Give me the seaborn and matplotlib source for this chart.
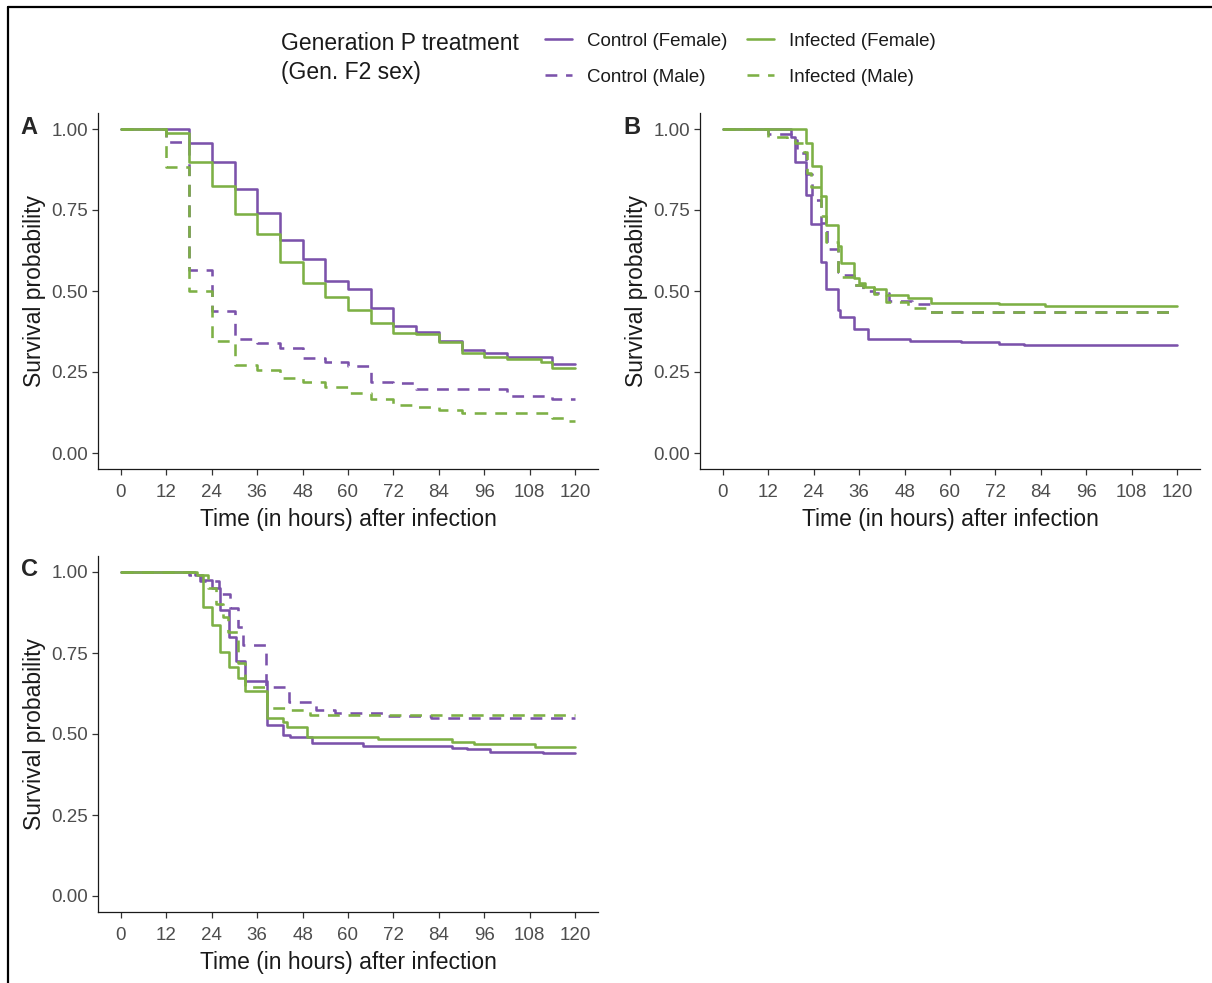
import numpy as np
import pandas as pd
import matplotlib
matplotlib.use("Agg")
import matplotlib.pyplot as plt
from matplotlib.lines import Line2D
import seaborn as sns

# ---------------- data (Kaplan-Meier step curves) ----------------
# Panel A
A_ctrl_f_t = [0, 18, 24, 30, 36, 42, 48, 54, 60, 66, 72, 78, 84, 90, 96, 102, 114, 120]
A_ctrl_f_s = [1.0, 0.956, 0.899, 0.815, 0.74, 0.657, 0.599, 0.532, 0.505, 0.447, 0.392, 0.374, 0.347, 0.318, 0.31, 0.295, 0.274, 0.274]
A_inf_f_t = [0, 12, 18, 24, 30, 36, 42, 48, 54, 60, 66, 72, 78, 84, 90, 96, 102, 111, 114, 120]
A_inf_f_s = [1.0, 0.987, 0.899, 0.824, 0.738, 0.676, 0.589, 0.524, 0.482, 0.441, 0.402, 0.371, 0.367, 0.344, 0.31, 0.295, 0.29, 0.282, 0.263, 0.263]
A_ctrl_m_t = [0, 12, 18, 24, 30, 36, 42, 48, 54, 60, 66, 72, 78, 102, 114, 120]
A_ctrl_m_s = [1.0, 0.961, 0.565, 0.438, 0.351, 0.34, 0.323, 0.292, 0.282, 0.27, 0.22, 0.215, 0.198, 0.176, 0.166, 0.166]
A_inf_m_t = [0, 12, 18, 24, 30, 36, 42, 48, 54, 60, 66, 72, 78, 84, 90, 114, 118, 120]
A_inf_m_s = [1.0, 0.884, 0.5, 0.346, 0.272, 0.256, 0.232, 0.218, 0.205, 0.184, 0.166, 0.148, 0.141, 0.133, 0.125, 0.107, 0.099, 0.099]

# Panel B
B_ctrl_f_t = [0, 18, 19, 22, 23.3, 25.8, 27.2, 30.3, 31, 34.5, 38.4, 49.3, 63, 73, 79.5, 120]
B_ctrl_f_s = [1.0, 0.976, 0.899, 0.796, 0.707, 0.59, 0.506, 0.441, 0.419, 0.382, 0.351, 0.347, 0.342, 0.336, 0.332, 0.332]
B_inf_f_t = [0, 22, 23.5, 26, 27.2, 30.5, 31.2, 34.5, 36, 37.5, 40, 43, 49, 55, 73, 85, 120]
B_inf_f_s = [1.0, 0.956, 0.886, 0.793, 0.704, 0.639, 0.587, 0.539, 0.525, 0.513, 0.505, 0.488, 0.477, 0.464, 0.459, 0.455, 0.455]
B_ctrl_m_t = [0, 12, 18, 19.5, 22, 23.5, 26, 27.5, 30.5, 31.5, 34.5, 37, 40, 44, 50, 54.8, 120]
B_ctrl_m_s = [1.0, 0.986, 0.965, 0.925, 0.86, 0.78, 0.71, 0.63, 0.56, 0.549, 0.52, 0.50, 0.493, 0.47, 0.459, 0.436, 0.436]
B_inf_m_t = [0, 12, 17, 19, 21.5, 22.3, 23.2, 26, 27.2, 30.5, 34.5, 37, 40, 43, 49, 54.8, 120]
B_inf_m_s = [1.0, 0.976, 0.966, 0.956, 0.93, 0.863, 0.82, 0.73, 0.652, 0.544, 0.52, 0.513, 0.49, 0.467, 0.447, 0.436, 0.436]

# Panel C
C_ctrl_f_t = [0, 19.6, 21.5, 24, 26.2, 28.6, 30.5, 32.8, 38.5, 42.9, 44.6, 50.4, 64, 87.5, 91.5, 97.5, 111.6, 120]
C_ctrl_f_s = [1.0, 0.99, 0.976, 0.95, 0.883, 0.8, 0.725, 0.664, 0.528, 0.497, 0.49, 0.473, 0.464, 0.458, 0.453, 0.445, 0.44, 0.44]
C_inf_f_t = [0, 20, 21.8, 24, 26.2, 28.6, 30.8, 32.8, 38.5, 42.9, 44, 49.1, 55, 68, 87.5, 93.4, 109.3, 120]
C_inf_f_s = [1.0, 0.99, 0.893, 0.836, 0.752, 0.708, 0.674, 0.633, 0.548, 0.536, 0.523, 0.492, 0.49, 0.484, 0.476, 0.469, 0.459, 0.459]
C_ctrl_m_t = [0, 18, 21, 26, 28.7, 30.8, 32.3, 38.2, 44.3, 51.5, 56.5, 70, 82, 120]
C_ctrl_m_s = [1.0, 0.99, 0.972, 0.931, 0.888, 0.83, 0.775, 0.646, 0.6, 0.574, 0.564, 0.557, 0.55, 0.55]
C_inf_m_t = [0, 21, 23, 25, 27, 28.4, 30.8, 32.8, 38.5, 44, 50, 120]
C_inf_m_s = [1.0, 0.99, 0.95, 0.9, 0.86, 0.815, 0.72, 0.646, 0.581, 0.574, 0.559, 0.559]

treatments = ["Control", "Infected"]
sexes = ["Female", "Male"]
legend_labels = ["Control (Female)", "Control (Male)", "Infected (Female)", "Infected (Male)"]
x_ticks = [0, 12, 24, 36, 48, 60, 72, 84, 96, 108, 120]
y_ticks = [0.0, 0.25, 0.50, 0.75, 1.00]
y_tick_labels = ["0.00", "0.25", "0.50", "0.75", "1.00"]

curves = {
    "A": {("Control", "Female"): (A_ctrl_f_t, A_ctrl_f_s), ("Infected", "Female"): (A_inf_f_t, A_inf_f_s),
          ("Control", "Male"): (A_ctrl_m_t, A_ctrl_m_s), ("Infected", "Male"): (A_inf_m_t, A_inf_m_s)},
    "B": {("Control", "Female"): (B_ctrl_f_t, B_ctrl_f_s), ("Infected", "Female"): (B_inf_f_t, B_inf_f_s),
          ("Control", "Male"): (B_ctrl_m_t, B_ctrl_m_s), ("Infected", "Male"): (B_inf_m_t, B_inf_m_s)},
    "C": {("Control", "Female"): (C_ctrl_f_t, C_ctrl_f_s), ("Infected", "Female"): (C_inf_f_t, C_inf_f_s),
          ("Control", "Male"): (C_ctrl_m_t, C_ctrl_m_s), ("Infected", "Male"): (C_inf_m_t, C_inf_m_s)},
}

rows = []
for panel, d in curves.items():
    for (trt, sex), (ts, ss) in d.items():
        for t, s in zip(ts, ss):
            rows.append({"panel": panel, "treatment": trt, "sex": sex, "time": t, "surv": s})
df = pd.DataFrame(rows)

# ---------------- style ----------------
sns.set_style("white")
plt.rcParams["font.family"] = ["Liberation Sans", "DejaVu Sans"]

PURPLE = "#7B52AB"
GREEN = "#7DB045"
palette = {"Control": PURPLE, "Infected": GREEN}
dashes = {"Female": "", "Male": (4.6, 3.4)}
LW = 1.85
TICK_FS = 13.5
TITLE_FS = 16.5

W, H = 1212, 983
fig = plt.figure(figsize=(W / 100, H / 100), dpi=100)
fig.patch.set_facecolor("white")

def px_axes(x0, x1, y0, y1):
    return fig.add_axes([x0 / W, 1 - y1 / H, (x1 - x0) / W, (y1 - y0) / H])

axes = {
    "A": px_axes(98.3, 597.7, 112.8, 469.2),
    "B": px_axes(700.3, 1199.7, 112.8, 469.2),
    "C": px_axes(98.3, 597.7, 555.8, 912.2),
}

for panel, ax in axes.items():
    sub = df[df["panel"] == panel]
    sns.lineplot(data=sub, x="time", y="surv", hue="treatment", style="sex",
                 hue_order=treatments, style_order=sexes, palette=palette,
                 dashes=dashes, drawstyle="steps-post", estimator=None,
                 linewidth=LW, legend=False, ax=ax)
    ax.set_xlim(-6, 126)
    ax.set_ylim(-0.05, 1.05)
    ax.set_xticks(x_ticks)
    ax.set_yticks(y_ticks)
    ax.set_yticklabels(y_tick_labels)
    for side in ["top", "right"]:
        ax.spines[side].set_visible(False)
    for side in ["left", "bottom"]:
        ax.spines[side].set_color("#1a1a1a")
        ax.spines[side].set_linewidth(0.9)
    ax.tick_params(axis="both", which="major", direction="out", length=4.5, width=0.9,
                   color="#333333", labelcolor="#4D4D4D", labelsize=TICK_FS,
                   bottom=True, left=True)
    ax.tick_params(axis="x", pad=6)
    ax.tick_params(axis="y", pad=3)
    ax.set_xlabel("Time (in hours) after infection", fontsize=TITLE_FS, color="#1a1a1a", labelpad=5.5)
    ax.set_ylabel("Survival probability", fontsize=TITLE_FS, color="#1a1a1a", labelpad=4)
    ax.grid(False)
    ax.set_facecolor("white")

# panel tags
fig.text(20 / W, 1 - 128 / H, "A", fontsize=17, fontweight="bold", ha="left", va="center")
fig.text(623 / W, 1 - 128 / H, "B", fontsize=17, fontweight="bold", ha="left", va="center")
fig.text(21 / W, 1 - 570 / H, "C", fontsize=17, fontweight="bold", ha="left", va="center")

# legend title
fig.text(281 / W, 1 - 43 / H, "Generation P treatment", fontsize=TITLE_FS, color="#1a1a1a",
         ha="left", va="center")
fig.text(281 / W, 1 - 72 / H, "(Gen. F2 sex)", fontsize=TITLE_FS, color="#1a1a1a",
         ha="left", va="center")

handles = [
    Line2D([], [], color=PURPLE, lw=LW),
    Line2D([], [], color=PURPLE, lw=LW, dashes=dashes["Male"]),
    Line2D([], [], color=GREEN, lw=LW),
    Line2D([], [], color=GREEN, lw=LW, dashes=dashes["Male"]),
]
leg = fig.legend(handles, legend_labels, ncol=2, loc="center left",
                 bbox_to_anchor=(545 / W, 1 - 59 / H), frameon=False,
                 fontsize=TICK_FS, borderpad=0, borderaxespad=0,
                 handlelength=1.45, handletextpad=0.8, columnspacing=1.05,
                 labelspacing=1.0)
for t in leg.get_texts():
    t.set_color("#1a1a1a")

# outer frame (top and left edges visible in the original)
fig.add_artist(Line2D([8 / W, 1], [1 - 7 / H, 1 - 7 / H], color="black", lw=1.6,
                      transform=fig.transFigure))
fig.add_artist(Line2D([8 / W, 8 / W], [0, 1 - 7 / H], color="black", lw=1.6,
                      transform=fig.transFigure))

fig.savefig("out.png", dpi=100)
